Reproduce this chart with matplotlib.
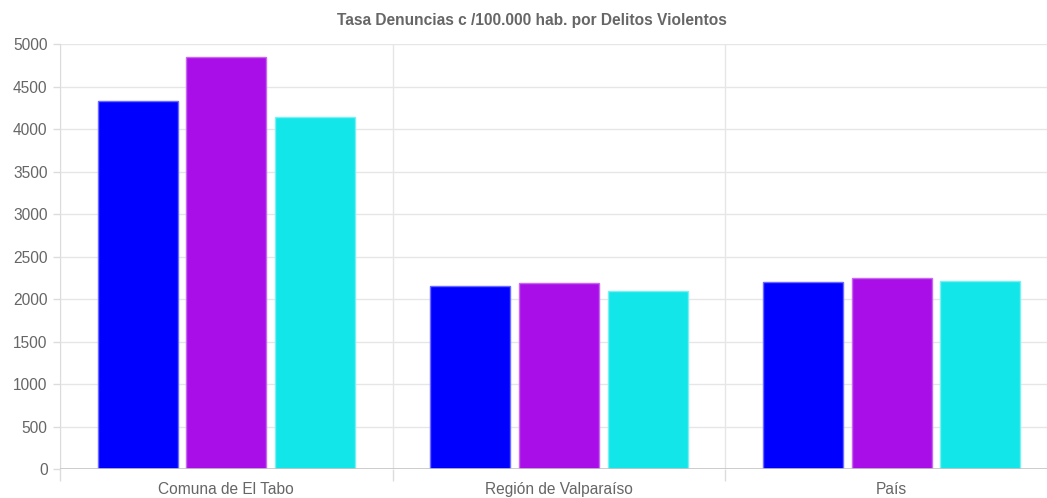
import numpy as np
import matplotlib
matplotlib.use("Agg")
import matplotlib.pyplot as plt

plt.rcParams['font.family'] = ['Liberation Sans', 'DejaVu Sans']

# tasas por 100.000 habitantes
categorias = ["Comuna de El Tabo", "Región de Valparaíso", "País"]
serie_1 = [4329, 2153, 2200]
serie_2 = [4847, 2188, 2247]
serie_3 = [4141, 2094, 2212]
colores = ["#0000ff", "#aa0ee8", "#12e6e9"]
bordes = ["#6a6aff", "#c56af0", "#7af0f2"]
titulo = "Tasa Denuncias c /100.000 hab. por Delitos Violentos"

W, H = 1047, 498
fig = plt.figure(figsize=(W / 100, H / 100), dpi=100)
ax = fig.add_axes([60 / W, 1 - 469 / H, 998 / W, 425 / H])

x = np.arange(len(categorias))
paso = 0.8 / 3
ancho = paso * 0.9
for i, (serie, c, b) in enumerate(zip([serie_1, serie_2, serie_3], colores, bordes)):
    ax.bar(x + (i - 1) * paso, serie, width=ancho, color=c, edgecolor=b,
           linewidth=1, zorder=3)

ax.set_xlim(-0.5, len(categorias) - 0.5)
ax.set_ylim(0, 5000)
ax.set_yticks(np.arange(0, 5001, 500))
ax.set_xticks(x)
ax.set_xticklabels(categorias)
ax.set_xticks(np.arange(-0.5, len(categorias), 1), minor=True)

ax.grid(axis='y', color='#e6e6e6', linewidth=1, zorder=0)
ax.grid(axis='x', which='minor', color='#e6e6e6', linewidth=1, zorder=0)
ax.axhline(0, color='#c4c4c4', linewidth=1.2, zorder=4)

ax.tick_params(axis='x', which='major', length=0, pad=9, labelsize=11.2,
               labelcolor='#666666')
ax.tick_params(axis='x', which='minor', length=8.6, color='#dcdcdc', width=1)
ax.tick_params(axis='y', length=5, color='#dcdcdc', width=1, pad=4,
               labelsize=11.2, labelcolor='#666666')

for s in ['top', 'right', 'bottom']:
    ax.spines[s].set_visible(False)
ax.spines['left'].set_color('#dcdcdc')

fig.text(532 / W, 1 - 21 / H, titulo, ha='center', va='center',
         fontsize=11.2, fontweight='bold', color='#666666')

fig.savefig("out.png", dpi=100)
